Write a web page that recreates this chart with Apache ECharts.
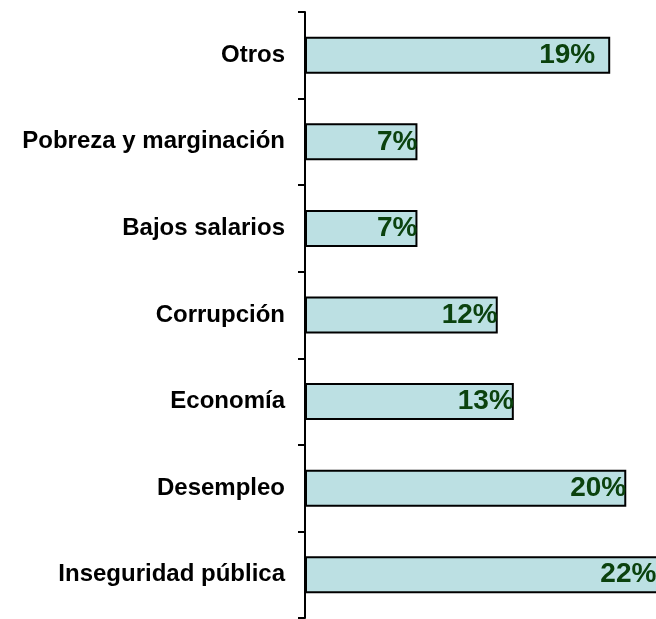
<!DOCTYPE html>
<html>
<head>
<meta charset="utf-8">
<script src="https://cdn.jsdelivr.net/npm/echarts@6/dist/echarts.min.js"></script>
<style>
  html, body { margin: 0; padding: 0; background: #fff; }
  #chart { width: 656px; height: 619px; }
</style>
</head>
<body>
<div id="chart"></div>
<script>
// categories listed bottom -> top (category axis starts at the bottom)
const categories = [
    'Inseguridad pública',
    'Desempleo',
    'Economía',
    'Corrupción',
    'Bajos salarios',
    'Pobreza y marginación',
    'Otros'
];
const values = [22, 20, 13, 12, 7, 7, 19];

// small per-bar nudges of the value label from the bar end
const labelDistance = { 'Otros': 15, 'Inseguridad pública': 2 };

const chart = echarts.init(document.getElementById('chart'), null, { renderer: 'canvas' });

const seriesData = values.map(function (v, i) {
    const item = { value: v };
    const d = labelDistance[categories[i]];
    if (d !== undefined) {
        item.label = { distance: d };
    }
    return item;
});

chart.setOption({
    animation: false,
    backgroundColor: '#ffffff',
    grid: {
        left: 305,
        width: 355,
        top: 12,
        height: 606,
        containLabel: false,
        outerBoundsMode: 'none'
    },
    xAxis: {
        type: 'value',
        min: 0,
        max: 22.1,
        show: false
    },
    yAxis: {
        type: 'category',
        data: categories,
        axisLine: { show: true, lineStyle: { color: '#000', width: 2 } },
        axisTick: { show: true, length: 7, lineStyle: { color: '#000', width: 2 } },
        axisLabel: {
            color: '#000',
            fontFamily: 'Liberation Sans, Arial, sans-serif',
            fontWeight: 'bold',
            fontSize: 24,
            margin: 20
        },
        splitLine: { show: false }
    },
    series: [
        {
            type: 'bar',
            data: seriesData,
            barWidth: 37,
            clip: true,
            itemStyle: {
                color: '#BCE0E3',
                borderColor: '#000',
                borderWidth: 2
            },
            label: {
                show: true,
                position: 'insideRight',
                distance: 0,
                formatter: '{c}%',
                color: '#0B420E',
                fontFamily: 'Liberation Sans, Arial, sans-serif',
                fontWeight: 'bold',
                fontSize: 28
            }
        }
    ]
});
</script>
</body>
</html>
